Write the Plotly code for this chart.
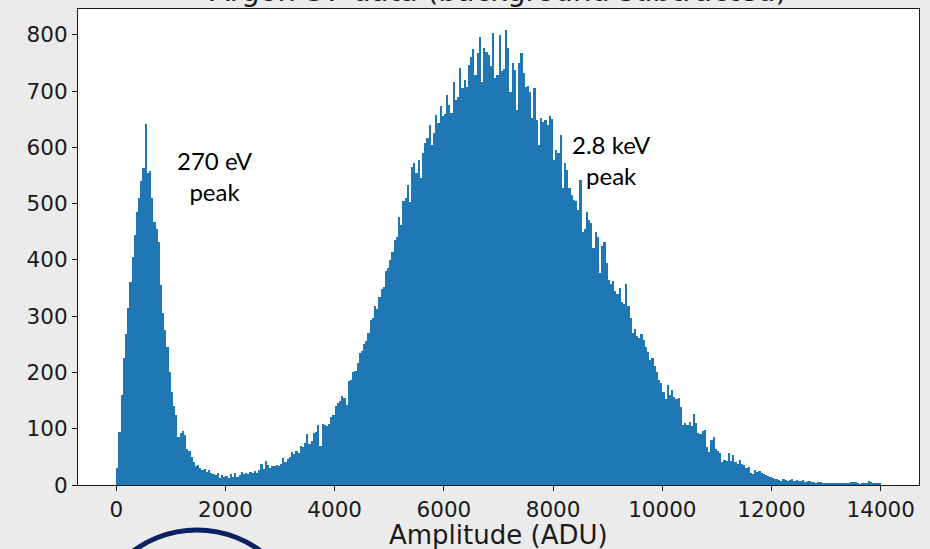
import plotly.graph_objects as go

# ---- data: histogram counts, 40-ADU bins starting at 0 ADU (one list per 1000 ADU) ----
bin_width = 40
counts_00 = [30, 95, 160, 225, 268, 315, 360, 405, 445, 485, 510, 540, 563, 642, 555, 558, 510, 468, 455, 432, 355, 305, 275, 245, 200]
counts_01 = [165, 140, 125, 85, 92, 96, 88, 64, 60, 50, 40, 33, 35, 30, 27, 29, 24, 26, 22, 20, 17, 22, 13, 18, 14]
counts_02 = [16, 12, 19, 15, 21, 14, 18, 24, 20, 22, 19, 23, 21, 25, 22, 26, 37, 28, 42, 35, 31, 33, 34, 36, 33]
counts_03 = [38, 48, 40, 46, 50, 58, 55, 60, 57, 70, 68, 74, 90, 72, 78, 92, 95, 106, 70, 108, 106, 105, 108, 120, 124]
counts_04 = [140, 146, 150, 158, 155, 142, 184, 186, 200, 203, 217, 234, 238, 250, 256, 270, 293, 296, 318, 312, 335, 348, 352, 380, 385]
counts_05 = [400, 415, 435, 440, 476, 462, 504, 510, 534, 503, 566, 572, 555, 578, 545, 590, 608, 616, 640, 604, 625, 658, 643, 673, 655]
counts_06 = [660, 693, 676, 661, 717, 684, 690, 741, 705, 720, 708, 747, 761, 775, 729, 767, 796, 717, 776, 770, 765, 744, 804, 723, 728]
counts_07 = [800, 735, 740, 808, 776, 699, 750, 738, 667, 750, 767, 732, 708, 710, 699, 652, 705, 649, 604, 652, 645, 649, 640, 655, 650]
counts_08 = [578, 596, 590, 622, 527, 572, 560, 527, 515, 507, 504, 489, 542, 450, 455, 486, 471, 465, 421, 450, 440, 376, 425, 432, 394]
counts_09 = [365, 358, 362, 345, 340, 350, 325, 322, 358, 318, 296, 270, 278, 265, 262, 268, 258, 245, 237, 222, 225, 212, 200, 187, 182]
counts_10 = [165, 152, 178, 160, 168, 157, 152, 155, 139, 106, 110, 106, 112, 104, 127, 110, 92, 90, 96, 98, 68, 58, 80, 86, 64]
counts_11 = [60, 56, 41, 45, 43, 56, 42, 53, 40, 38, 45, 37, 36, 30, 32, 22, 20, 27, 24, 25, 22, 20, 18, 16, 15]
counts_12 = [12, 10, 11, 9, 8, 10, 9, 8, 9, 10, 8, 9, 7, 8, 9, 6, 7, 8, 5, 6, 4, 5, 6, 3, 4]
counts_13 = [3, 4, 2, 3, 3, 2, 4, 3, 2, 3, 3, 6, 6, 5, 2, 1, 2, 2, 3, 7, 6, 3, 2, 3, 2]

x_ticks = [0, 2000, 4000, 6000, 8000, 10000, 12000, 14000]
y_ticks = [0, 100, 200, 300, 400, 500, 600, 700, 800]

title_text = "Argon-37 data (background subtracted)"
x_label = "Amplitude (ADU)"
peak_labels = [("270 eV<br>peak", 1812, 549), ("2.8 keV<br>peak", 9078, 577)]

counts = (counts_00 + counts_01 + counts_02 + counts_03 + counts_04 + counts_05 + counts_06
          + counts_07 + counts_08 + counts_09 + counts_10 + counts_11 + counts_12 + counts_13)
centers = [bin_width / 2 + bin_width * i for i in range(len(counts))]

W, H = 930, 549
L, R, T, B = 78, 11, 9, 64
pw, ph = W - L - R, H - T - B
BG = "#ebebeb"


def px_x(p):
    return (p - L) / pw


def px_y(p):
    return (H - B - p) / ph


fig = go.Figure()
fig.add_trace(go.Bar(
    x=centers, y=counts, width=bin_width,
    marker=dict(color="#1f77b4", line=dict(width=0)),
    hoverinfo="x+y", showlegend=False,
))

font_main = "DejaVu Sans, sans-serif"
axis_common = dict(
    showgrid=False, zeroline=False, showline=True, mirror=True,
    linecolor="#1a1a1a", linewidth=1.2,
    ticks="outside", ticklen=5, tickwidth=1, tickcolor="#1a1a1a",
    tickfont=dict(family=font_main, size=21.5, color="#1a1a1a"),
)
fig.update_xaxes(range=[-700, 14700], tickvals=x_ticks, ticktext=[str(v) for v in x_ticks], **axis_common)
fig.update_yaxes(range=[0, 846], tickvals=y_ticks, ticktext=[str(v) for v in y_ticks], **axis_common)

annotations = [
    dict(text=title_text, x=0.5, y=px_y(-9), xref="paper", yref="paper",
         xanchor="center", yanchor="middle", showarrow=False,
         font=dict(family=font_main, size=29, color="#1a1a1a")),
    dict(text=x_label, x=0.5, y=px_y(535), xref="paper", yref="paper",
         xanchor="center", yanchor="middle", showarrow=False,
         font=dict(family=font_main, size=26, color="#1a1a1a")),
]
for txt, ax, ay in peak_labels:
    annotations.append(dict(text=txt, x=ax, y=ay, xref="x", yref="y",
                            xanchor="center", yanchor="middle", showarrow=False,
                            font=dict(family="Lato, sans-serif", size=24, color="#000000")))

fig.update_layout(
    width=W, height=H,
    margin=dict(l=L, r=R, t=T, b=B, autoexpand=False),
    paper_bgcolor=BG, plot_bgcolor="#ffffff",
    bargap=0,
    annotations=annotations,
    shapes=[dict(type="circle", xref="paper", yref="paper",
                 x0=px_x(197 - 107), x1=px_x(197 + 107),
                 y0=px_y(637 + 107), y1=px_y(637 - 107),
                 line=dict(color="#0b2161", width=5), layer="above")],
)

fig.write_html(
    "out.html",
    config={"displayModeBar": False},
    post_script="document.body.style.margin='0';document.body.style.background='" + BG + "';"
                "document.body.style.overflow='hidden';",
)
